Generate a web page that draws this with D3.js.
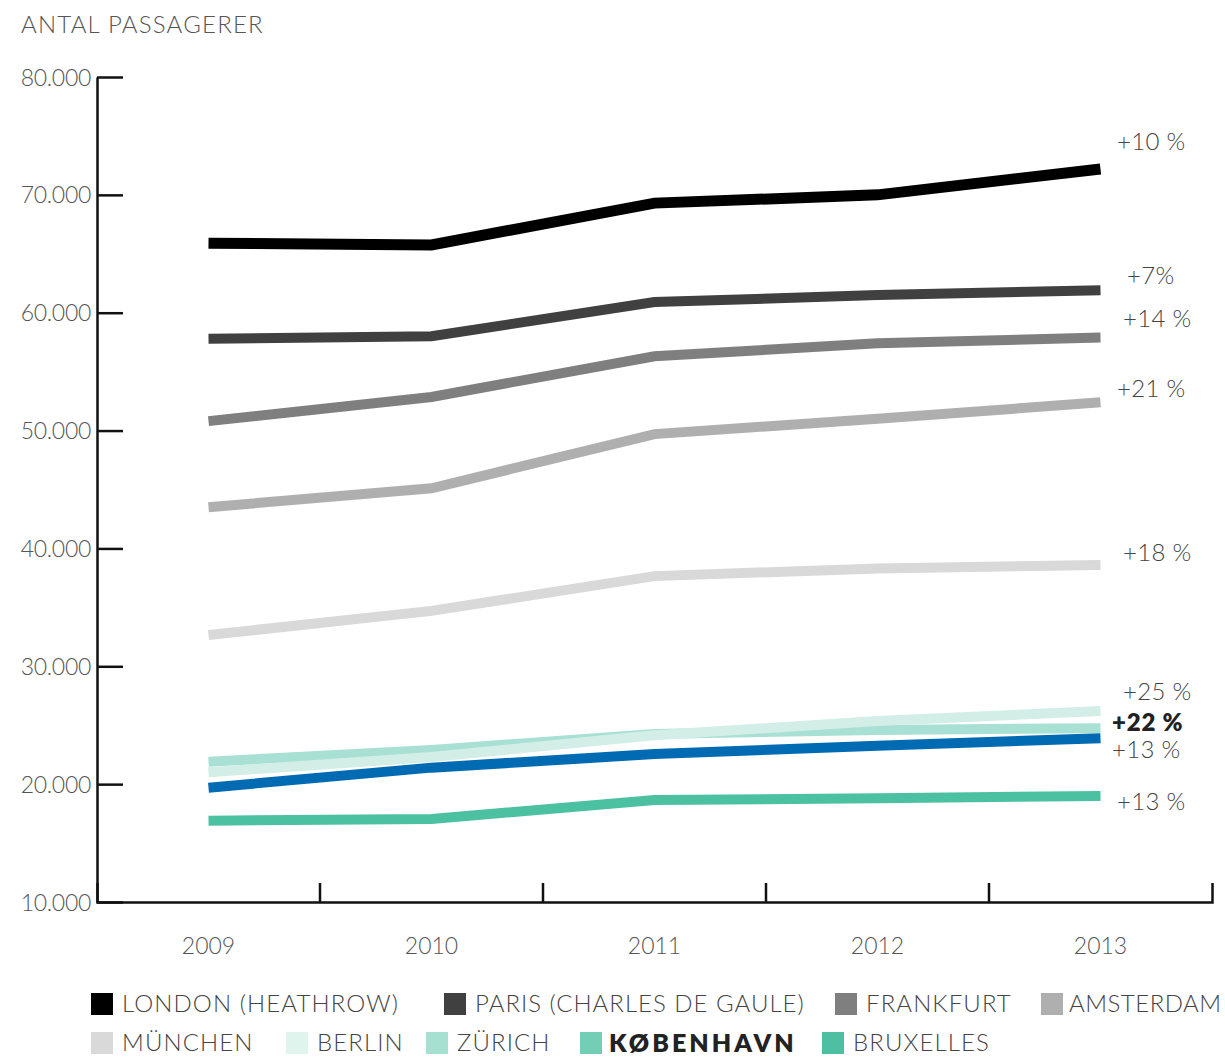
<!DOCTYPE html>
<html>
<head>
<meta charset="utf-8">
<script src="https://cdn.jsdelivr.net/npm/d3@7"></script>
<style>
  body { margin: 0; background: #fff; }
  svg text { font-family: "Lato", "Open Sans", sans-serif; }
</style>
</head>
<body>
<svg id="chart" width="1225" height="1058"></svg>
<script>
const years = ["2009", "2010", "2011", "2012", "2013"];
const yTicks = [10000, 20000, 30000, 40000, 50000, 60000, 70000, 80000];
const seriesNames = ["LONDON (HEATHROW)", "PARIS (CHARLES DE GAULE)", "FRANKFURT", "AMSTERDAM", "MÜNCHEN", "BERLIN", "ZÜRICH", "KØBENHAVN", "BRUXELLES"];
const london    = [65900, 65750, 69300, 70000, 72200];
const paris     = [57800, 58000, 60900, 61500, 61900];
const frankfurt = [50800, 52850, 56300, 57400, 57900];
const amsterdam = [43500, 45100, 49700, 51000, 52400];
const munchen   = [32650, 34700, 37650, 38300, 38600];
const berlin    = [21000, 22300, 24150, 25350, 26200];
const zurich    = [21900, 22900, 24250, 24600, 24750];
const kobenhavn = [19700, 21400, 22550, 23250, 23900];
const bruxelles = [16900, 17050, 18650, 18800, 19000];
const changeLabels = ["+10 %", "+7%", "+14 %", "+21 %", "+18 %", "+25 %", "+13 %", "+22 %", "+13 %"];

const lineColors   = ["#000000", "#404040", "#7f7f7f", "#afafaf", "#d9d9d9", "#d3eee6", "#a8e1d3", "#006bb3", "#4cc1a2"];
const legendColors = ["#000000", "#404040", "#7f7f7f", "#afafaf", "#d9d9d9", "#e0f4ee", "#a6e0d0", "#72ceb5", "#4cc0a0"];
const values = [london, paris, frankfurt, amsterdam, munchen, berlin, zurich, kobenhavn, bruxelles];

const svg = d3.select("#chart");
const x = d3.scaleBand().domain(years).range([97, 1212]);
const y = d3.scaleLinear().domain([10000, 80000]).range([902, 77]);
const fmt = v => d3.format(",")(v).replace(/,/g, ".");

// title
svg.append("text").attr("x", 21).attr("y", 33).text("ANTAL PASSAGERER")
  .attr("font-size", 24).attr("font-weight", 300).attr("fill", "#555").attr("letter-spacing", 1.2);

// y axis
const yAxis = svg.append("g").attr("transform", "translate(97,0)")
  .call(d3.axisLeft(y).tickValues(yTicks).tickFormat(fmt).tickSizeInner(-26).tickSizeOuter(0).tickPadding(6));
yAxis.select(".domain").attr("stroke", "#111").attr("stroke-width", 2.5);
yAxis.selectAll(".tick line").attr("stroke", "#111").attr("stroke-width", 2.5);
yAxis.selectAll(".tick text").attr("font-size", 23).attr("font-weight", 300).attr("fill", "#555")
  .attr("letter-spacing", -0.3).attr("font-family", "Lato, sans-serif").attr("dy", "0.35em");

// x axis
const xAxis = svg.append("g").attr("transform", "translate(0,902)")
  .call(d3.axisBottom(x).tickSizeInner(0).tickSizeOuter(-19).tickPadding(0));
xAxis.select(".domain").attr("stroke", "#111").attr("stroke-width", 2.5).attr("fill", "none");
xAxis.selectAll(".tick text").attr("y", 44).attr("dy", "0.35em").attr("font-size", 23).attr("font-weight", 300)
  .attr("fill", "#555").attr("letter-spacing", 0).attr("font-family", "Lato, sans-serif");
xAxis.selectAll(".bound").data(years.slice(0, -1)).enter().append("line")
  .attr("x1", d => x(d) + x.bandwidth()).attr("x2", d => x(d) + x.bandwidth())
  .attr("y1", 0).attr("y2", -19).attr("stroke", "#111").attr("stroke-width", 2.5);

// lines
const line = d3.line().x((d, i) => x(years[i]) + x.bandwidth() / 2).y(d => y(d));
const drawOrder = [0, 1, 2, 3, 4, 6, 5, 7, 8];
drawOrder.forEach(i => {
  svg.append("path").datum(values[i]).attr("d", line).attr("fill", "none")
    .attr("stroke", lineColors[i]).attr("stroke-width", i === 0 ? 11 : 10);
});

// change labels
const labelPos = [
  {x: 1117, y: 142}, {x: 1127, y: 276}, {x: 1123, y: 319}, {x: 1117, y: 389}, {x: 1123, y: 553},
  {x: 1123, y: 692}, {x: 1112, y: 750}, {x: 1112, y: 723}, {x: 1117, y: 802}
];
changeLabels.forEach((t, i) => {
  svg.append("text").attr("x", labelPos[i].x).attr("y", labelPos[i].y).attr("dy", "0.35em")
    .text(t).attr("font-size", 24).attr("font-weight", i === 7 ? 800 : 300)
    .attr("fill", i === 7 ? "#222" : "#444").attr("letter-spacing", i === 7 ? 0.8 : 0.3);
});

// legend
const legendPos = [
  {x: 91, y: 1004}, {x: 444, y: 1004}, {x: 835, y: 1004}, {x: 1041, y: 1004},
  {x: 91, y: 1043}, {x: 286, y: 1043}, {x: 426, y: 1043}, {x: 580, y: 1043}, {x: 822, y: 1043}
];
const legendSpacing = [1.1, 1.0, 1.1, 0.5, 1.1, 1.1, 1.1, 3, 1.1];
seriesNames.forEach((n, i) => {
  const g = svg.append("g").attr("transform", `translate(${legendPos[i].x},${legendPos[i].y})`);
  g.append("rect").attr("x", 0).attr("y", -11).attr("width", 22).attr("height", 22).attr("fill", legendColors[i]);
  g.append("text").attr("x", i === 7 ? 29 : (i === 3 ? 28 : 31)).attr("y", 0).attr("dy", "0.35em").text(n)
    .attr("font-size", i === 7 ? 25 : 24).attr("font-weight", i === 7 ? 800 : 300)
    .attr("fill", i === 7 ? "#222" : "#444").attr("letter-spacing", legendSpacing[i]);
});
</script>
</body>
</html>
